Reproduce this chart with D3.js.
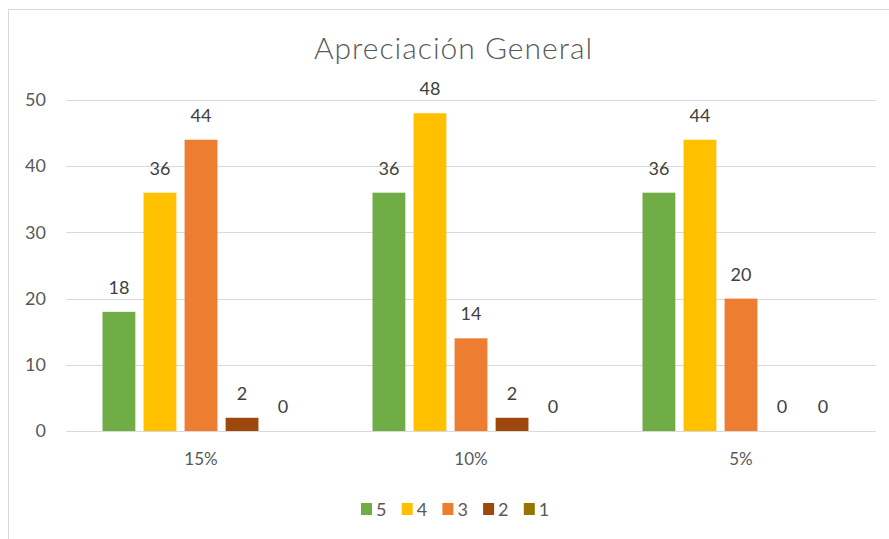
<!DOCTYPE html>
<html>
<head>
<meta charset="utf-8">
<script src="https://cdn.jsdelivr.net/npm/d3@7"></script>
<style>
  html, body { margin: 0; padding: 0; background: #fff; }
  svg { display: block; }
  text { font-family: Lato, "Open Sans", sans-serif; }
</style>
</head>
<body>
<svg id="chart" width="889" height="539"></svg>
<script>
const title = "Apreciación General";
const categories = ["15%", "10%", "5%"];
const seriesNames = ["5", "4", "3", "2", "1"];
const seriesColors = ["#70AD47", "#FFC000", "#ED7D31", "#9E480E", "#997300"];
const values5 = [18, 36, 36];
const values4 = [36, 48, 44];
const values3 = [44, 14, 20];
const values2 = [2, 2, 0];
const values1 = [0, 0, 0];
const yTicks = [0, 10, 20, 30, 40, 50];

const seriesValues = [values5, values4, values3, values2, values1];
const data = categories.map((c, i) => ({
  cat: c,
  vals: seriesNames.map((s, j) => ({ s, j, v: seriesValues[j][i] }))
}));

const svg = d3.select("#chart");
const W = 889, H = 539;
const M = { left: 66, right: 13, top: 100, bottom: 108 };
const FONT = "Lato, 'Open Sans', sans-serif";

// chart frame (extends beyond right/bottom edges)
svg.append("rect")
  .attr("x", 8.5).attr("y", 9.5)
  .attr("width", W + 20).attr("height", H + 20)
  .attr("fill", "#fff").attr("stroke", "#d9d9d9").attr("stroke-width", 1);

const x0 = d3.scaleBand().domain(categories).range([M.left, W - M.right]).padding(0);
const bw = x0.bandwidth();
const groupW = bw * 0.76;
const x1 = d3.scaleBand().domain(seriesNames)
  .range([(bw - groupW) / 2, (bw + groupW) / 2]).paddingInner(0.2).paddingOuter(0.1);
const y = d3.scaleLinear().domain([0, 50]).range([H - M.bottom, M.top]);

// gridlines
const grid = svg.append("g").attr("class", "grid");
grid.selectAll("line").data(yTicks).join("line")
  .attr("x1", M.left).attr("x2", W - M.right)
  .attr("y1", d => Math.round(y(d)) + 0.5).attr("y2", d => Math.round(y(d)) + 0.5)
  .attr("stroke", "#d9d9d9").attr("stroke-width", 1);

// y axis labels
const yAxis = d3.axisLeft(y).tickValues(yTicks).tickSize(0).tickPadding(20);
const gy = svg.append("g").attr("transform", `translate(${M.left},0)`).call(yAxis);
gy.select(".domain").remove();
gy.selectAll("text").attr("font-size", 18).attr("fill", "#595959")
  .style("font-family", FONT);

// x axis labels
const xAxis = d3.axisBottom(x0).tickSize(0).tickPadding(22);
const gx = svg.append("g").attr("transform", `translate(0,${y(0)})`).call(xAxis);
gx.select(".domain").remove();
gx.selectAll("text").attr("font-size", 17).attr("fill", "#595959")
  .style("font-family", FONT);

// bars
const groups = svg.append("g").selectAll("g").data(data).join("g")
  .attr("transform", d => `translate(${x0(d.cat)},0)`);
groups.selectAll("rect").data(d => d.vals).join("rect")
  .attr("x", d => x1(d.s))
  .attr("width", x1.bandwidth())
  .attr("y", d => y(d.v))
  .attr("height", d => y(0) - y(d.v))
  .attr("fill", d => seriesColors[d.j]);

// data labels
groups.selectAll("text.lbl").data(d => d.vals).join("text")
  .attr("class", "lbl")
  .attr("x", d => x1(d.s) + x1.bandwidth() / 2)
  .attr("y", d => y(d.v) - 18)
  .attr("text-anchor", "middle")
  .attr("font-size", 18).attr("fill", "#404040")
  .text(d => d.v);

// title
svg.append("text").attr("x", 453.5).attr("y", 59)
  .attr("text-anchor", "middle").attr("font-size", 30).attr("font-weight", 300)
  .attr("letter-spacing", 1).attr("fill", "#595959")
  .text(title);

// legend
const legend = svg.append("g").attr("transform", "translate(361,503)");
const li = legend.selectAll("g").data(seriesNames).join("g")
  .attr("transform", (d, i) => `translate(${i * 40.7},0)`);
li.append("rect").attr("width", 11).attr("height", 12)
  .attr("fill", (d, i) => seriesColors[i]);
li.append("text").attr("x", 15).attr("y", 12.5)
  .attr("font-size", 18).attr("fill", "#595959").text(d => d);
</script>
</body>
</html>
